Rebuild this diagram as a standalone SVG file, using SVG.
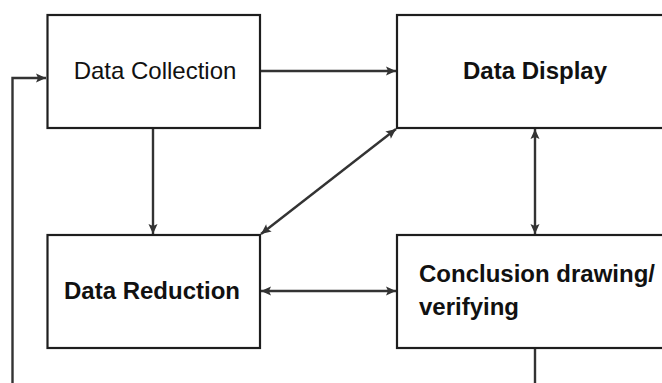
<svg xmlns="http://www.w3.org/2000/svg" width="662" height="383" viewBox="0 0 662 383">
  <style>
    .box { fill: #ffffff; stroke: #1e1e1e; stroke-width: 2.2; }
    .lbl { font-family: "Liberation Sans", Arial, sans-serif; font-size: 24px; fill: #111111; }
    .bold { font-weight: bold; }
    .conn { fill: none; stroke: #333333; stroke-width: 2.4; }
  </style>
  <defs>
    <marker id="arrow" markerUnits="userSpaceOnUse" markerWidth="12" markerHeight="12" viewBox="0 0 12 12" refX="11" refY="6" orient="auto-start-reverse">
      <path d="M1 1.5 L11 6 L1 10.5 L3 6 Z" fill="#333333"/>
    </marker>
  </defs>

  <rect width="662" height="383" fill="#ffffff"/>

  <g id="connectors">
    <!-- feedback loop from conclusion back to collection -->
    <path class="conn" d="M535 348 V386 H12.5 V78 H46" marker-end="url(#arrow)"/>
    <path class="conn" d="M260 71 H396" marker-end="url(#arrow)"/>
    <path class="conn" d="M153 128 V234" marker-end="url(#arrow)"/>
    <path class="conn" d="M396 129 L261 234" marker-start="url(#arrow)" marker-end="url(#arrow)"/>
    <path class="conn" d="M535 129 V234" marker-start="url(#arrow)" marker-end="url(#arrow)"/>
    <path class="conn" d="M261 291 H396" marker-start="url(#arrow)" marker-end="url(#arrow)"/>
  </g>

  <g id="data-collection">
    <rect class="box" x="47.5" y="15" width="212.5" height="113"/>
    <text class="lbl" x="155" y="79" text-anchor="middle">Data Collection</text>
  </g>

  <g id="data-display">
    <rect class="box" x="397" y="15" width="280" height="113"/>
    <text class="lbl bold" x="535" y="79" text-anchor="middle">Data Display</text>
  </g>

  <g id="data-reduction">
    <rect class="box" x="47.5" y="235" width="212.5" height="113"/>
    <text class="lbl bold" x="152" y="299" text-anchor="middle">Data Reduction</text>
  </g>

  <g id="conclusion">
    <rect class="box" x="397" y="235" width="280" height="113"/>
    <text class="lbl bold" x="419" y="282">Conclusion drawing/</text>
    <text class="lbl bold" x="419" y="315">verifying</text>
  </g>
</svg>
